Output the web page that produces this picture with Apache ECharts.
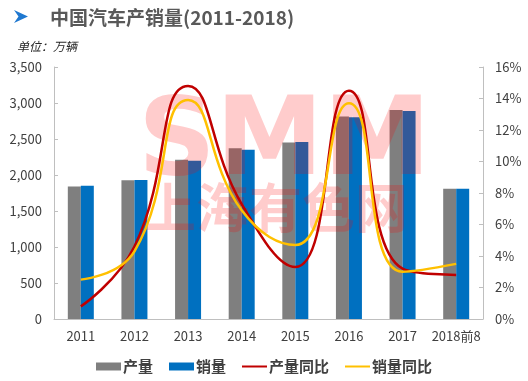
<!DOCTYPE html>
<html><head><meta charset="utf-8">
<script src="https://cdn.jsdelivr.net/npm/echarts@6/dist/echarts.min.js"></script>
<style>html,body{margin:0;padding:0;background:#fff}#c{width:528px;height:381px}</style>
</head><body><div id="c"></div>
<script>
const categories = ['2011','2012','2013','2014','2015','2016','2017','2018前8'];
const production = [1841.9, 1927.2, 2211.7, 2372.3, 2450.3, 2811.9, 2901.5, 1809.3];
const sales = [1850.5, 1930.6, 2198.4, 2349.2, 2459.8, 2802.8, 2887.9, 1808.7];
const productionYoY = [0.8, 4.6, 14.8, 7.3, 3.3, 14.5, 3.2, 2.8];
const salesYoY = [2.5, 4.3, 13.9, 6.9, 4.7, 13.7, 3.0, 3.5];
const leftTicks = {min: 0, max: 3500, interval: 500};
const rightTicks = {min: 0, max: 16, interval: 2};

const FONT = '"Noto Sans CJK SC", "Noto Sans", sans-serif';
const chart = echarts.init(document.getElementById('c'), null, {renderer: 'canvas'});
chart.setOption({
  animation: false,
  backgroundColor: '#fff',
  title: [
    {text: '中国汽车产销量(2011-2018)', left: 45, top: 3,
     textStyle: {fontFamily: FONT, fontSize: 19, fontWeight: 'bold', color: '#595959'}},
    {text: '单位：万辆', left: 12, top: 35,
     textStyle: {fontFamily: FONT, fontSize: 12, fontStyle: 'italic', fontWeight: 'normal', color: '#262626'}}
  ],
  graphic: [
    {type: 'polygon', z: 10, shape: {points: [[14,10],[28,16.5],[14,23],[18.5,16.5]]},
     style: {fill: '#1F78D0'}},
    {type: 'text', z: 3, left: 138, top: 92,
     style: {text: 'SMM', fontFamily: '"DejaVu Sans", sans-serif', fontWeight: 'bold', fontSize: 108,
             fill: 'rgba(255,0,0,0.2)'}},
    {type: 'text', z: 3, left: 143, top: 181,
     style: {text: '上海有色网', fontFamily: FONT, fontWeight: 'bold', fontSize: 53,
             fill: 'rgba(255,0,0,0.2)'}}
  ],
  legend: {
    left: 'center', bottom: 2, itemGap: 16, itemWidth: 25, itemHeight: 8,
    textStyle: {fontFamily: FONT, fontSize: 15, fontWeight: 'bold', color: '#404040', padding: [0,0,0,-3]},
    data: [
      {name: '产量', icon: 'path://M0,0H25V8H0Z'},
      {name: '销量', icon: 'path://M0,0H25V8H0Z'},
      {name: '产量同比', icon: 'path://M0,0H25V2H0Z'},
      {name: '销量同比', icon: 'path://M0,0H25V2H0Z'}
    ]
  },
  grid: {left: 54, right: 45, top: 67, bottom: 62},
  xAxis: {
    type: 'category', data: categories, boundaryGap: true,
    axisLine: {lineStyle: {color: '#BFBFBF'}},
    axisTick: {inside: true, length: 5, lineStyle: {color: '#BFBFBF'}},
    axisLabel: {fontFamily: FONT, fontSize: 13, color: '#404040', margin: 11, interval: 0}
  },
  yAxis: [
    {type: 'value', min: leftTicks.min, max: leftTicks.max, interval: leftTicks.interval,
     splitLine: {show: false},
     axisLine: {show: true, lineStyle: {color: '#BFBFBF'}},
     axisTick: {show: true, inside: true, length: 4, lineStyle: {color: '#BFBFBF'}},
     axisLabel: {fontFamily: FONT, fontSize: 13, color: '#404040', margin: 12,
                 formatter: v => v.toLocaleString('en-US')}},
    {type: 'value', min: rightTicks.min, max: rightTicks.max, interval: rightTicks.interval,
     splitLine: {show: false},
     axisLine: {show: true, lineStyle: {color: '#BFBFBF'}},
     axisTick: {show: true, inside: true, length: 4, lineStyle: {color: '#BFBFBF'}},
     axisLabel: {fontFamily: FONT, fontSize: 13, color: '#404040', margin: 12, formatter: '{value}%'}}
  ],
  series: [
    {name: '产量', type: 'bar', data: production, barWidth: 13, barGap: '0%', z: 2,
     itemStyle: {color: '#7F7F7F'}},
    {name: '销量', type: 'bar', data: sales, barWidth: 13, barGap: '0%', z: 2,
     itemStyle: {color: '#0070C0'}},
    {name: '产量同比', type: 'line', yAxisIndex: 1, data: productionYoY, smooth: 0.5, z: 5,
     showSymbol: false, symbol: 'none', lineStyle: {color: '#C00000', width: 2.5}, itemStyle: {color: '#C00000'}},
    {name: '销量同比', type: 'line', yAxisIndex: 1, data: salesYoY, smooth: 0.5, z: 6,
     showSymbol: false, symbol: 'none', lineStyle: {color: '#FFC000', width: 2.5}, itemStyle: {color: '#FFC000'}}
  ]
});
</script></body></html>
